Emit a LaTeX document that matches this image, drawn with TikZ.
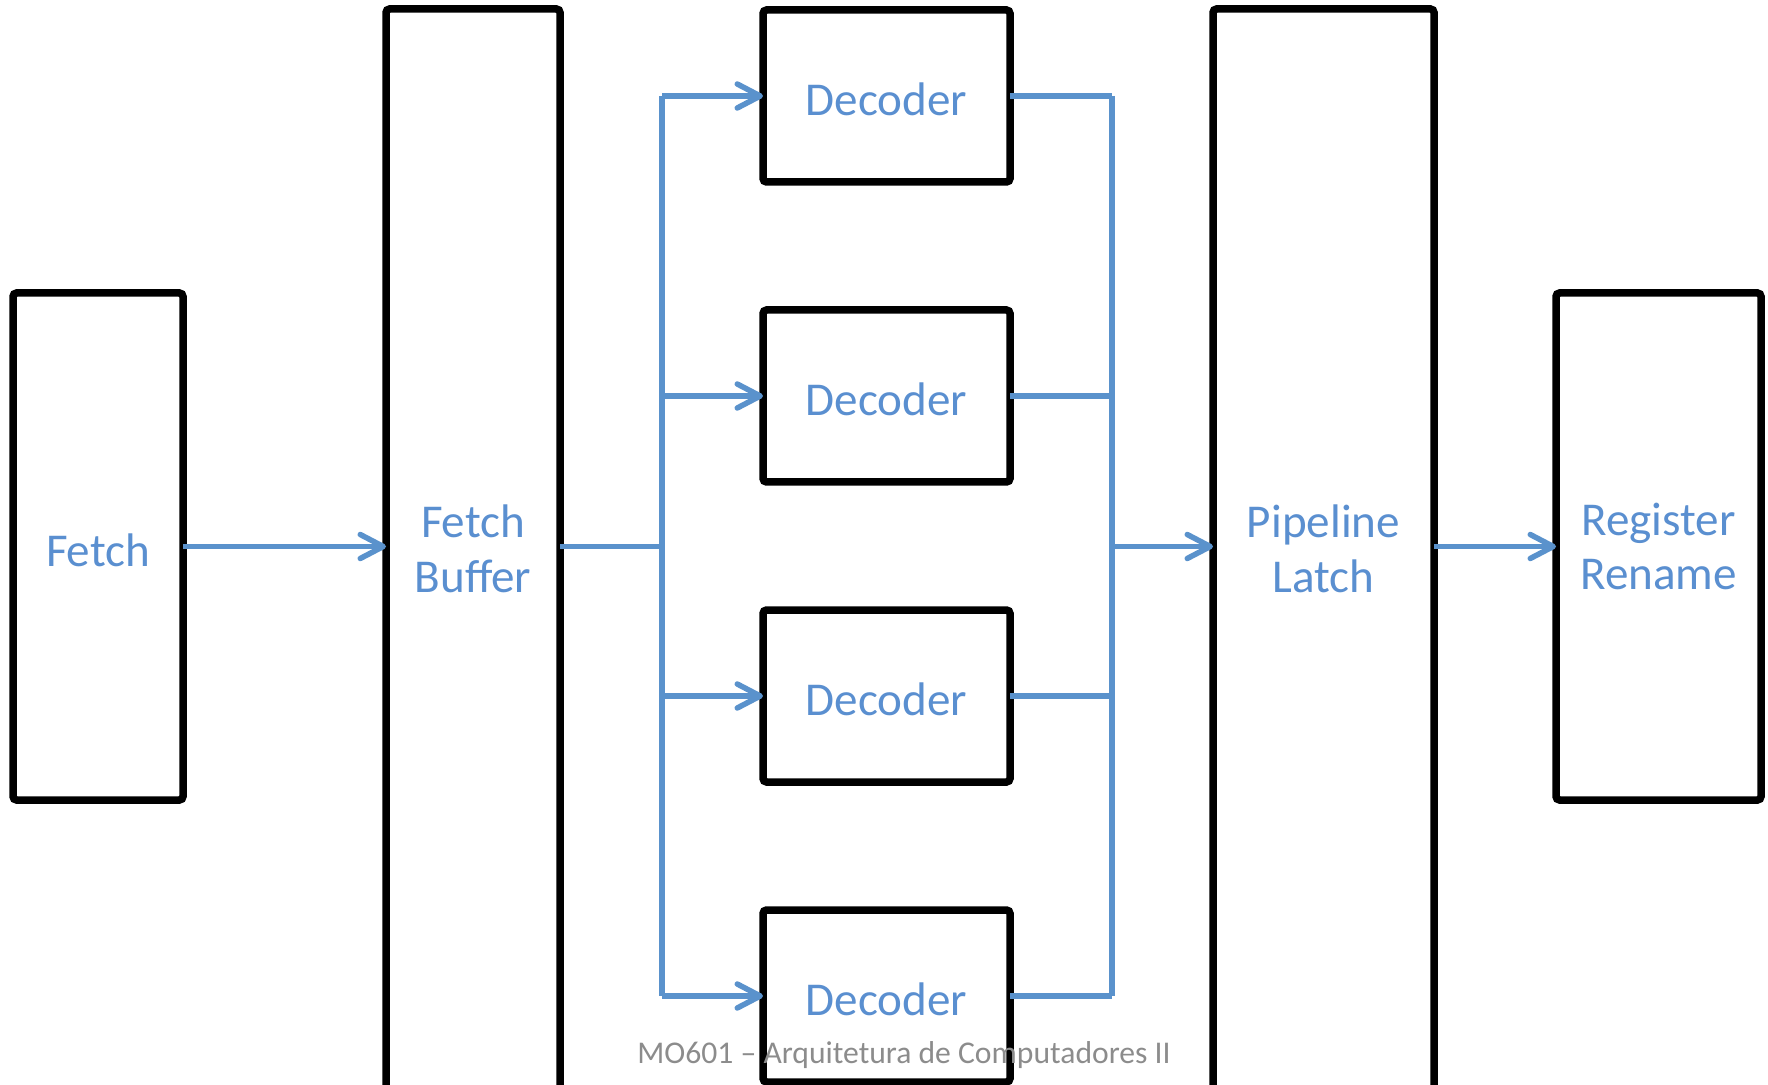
\documentclass[tikz,border=0pt]{standalone}
\usepackage{fontspec}
\setmainfont{Carlito}
\usetikzlibrary{arrows.meta}
\definecolor{link-blue}{HTML}{5A92CC}
\definecolor{label-blue}{HTML}{5A8FD0}
\definecolor{footer-gray}{HTML}{8C8C8C}

\begin{document}
\begin{tikzpicture}[x=0.1mm, y=-0.1mm,
    stage/.style={draw, line width=0.75mm, fill=white, rounded corners=1pt,
      outer sep=0pt, align=center, text=label-blue,
      font=\fontsize{13.4}{15.6}\selectfont},
    oneline/.style={text height=3.9mm, text depth=0mm},
    tall/.style={minimum height=109.1mm, text depth=1.1mm},
    link/.style={draw=link-blue, line width=0.55mm},
    feed/.style={link, -{Straight Barb[length=2.3mm, width=2.4mm, round]}}]
  \clip (0,0) rectangle (1768,1085);
  % pipeline stages
  \node[stage, oneline, minimum width=17mm, minimum height=50.7mm] (fetch) at (98,546.5) {Fetch};
  \node[stage, tall, minimum width=17.4mm] (fbuf) at (473,554.5) {Fetch\\Buffer};
  \node[stage, tall, minimum width=22.1mm] (latch) at (1323.5,554.5) {Pipeline\\Latch};
  \node[stage, minimum width=20.5mm, minimum height=50.7mm] (rename) at (1658.5,546.5)
        {Register\\Rename};
  \foreach \i in {1,...,4}
    \node[stage, oneline, minimum width=24.7mm, minimum height=17.2mm] (dec\i)
          at (886.5,-204+300*\i) {Decoder};
  % buses
  \coordinate (busL) at (662,546.5);
  \coordinate (busR) at (1112,546.5);
  \draw[feed] (fetch.east) -- (fbuf.west |- fetch);
  \draw[link] (fbuf.east |- fetch) -- (busL);
  \draw[link] (busL |- dec1) -- (busL |- dec4);
  \draw[link] (busR |- dec1) -- (busR |- dec4);
  \foreach \i in {1,...,4} {
    \draw[feed] (busL |- dec\i) -- (dec\i.west);
    \draw[link] (dec\i.east) -- (busR |- dec\i);
  }
  \draw[feed] (busR) -- (latch.west |- busR);
  \draw[feed] (latch.east |- rename) -- (rename.west);
  \node[font=\fontsize{9}{11}\selectfont, text=footer-gray, anchor=base] (footer)
        at (904,1063) {MO601 -- Arquitetura de Computadores II};
\end{tikzpicture}
\end{document}
